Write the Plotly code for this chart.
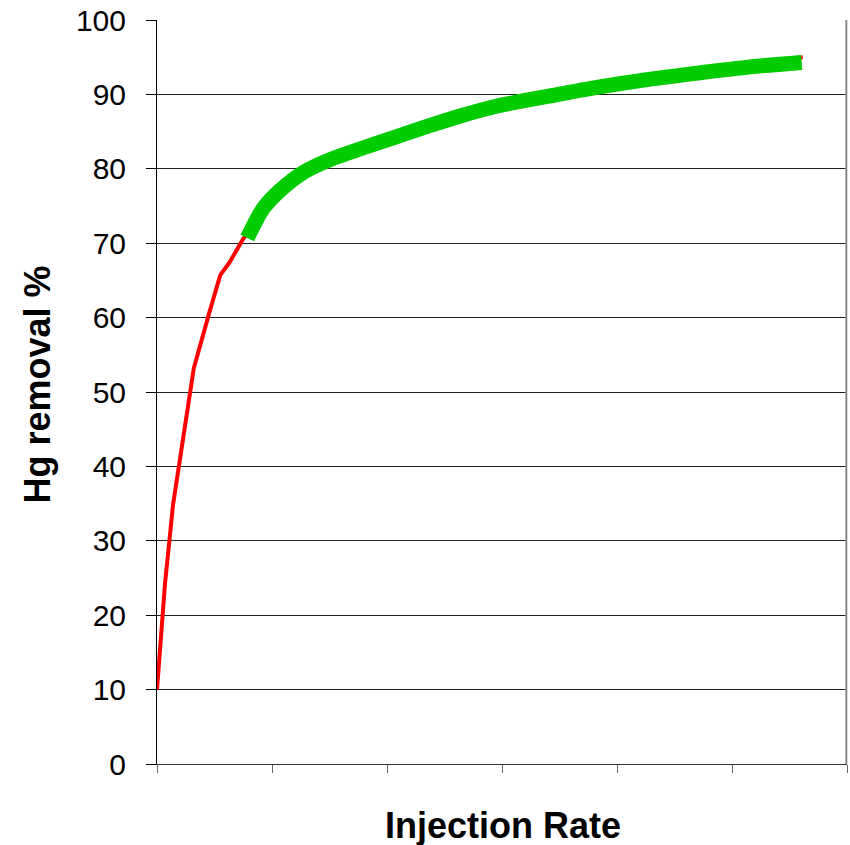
import plotly.graph_objects as go

# Data (x in tick-interval units, unlabeled axis)
red_x = [0.0, 0.07, 0.14, 0.23, 0.32, 0.45, 0.55, 0.63, 0.75, 0.79, 1.07, 1.5, 2.08, 2.95, 3.85, 4.72, 5.615]
red_y = [10.0, 24.3, 34.9, 44.0, 53.2, 60.4, 65.7, 67.4, 70.6, 71.3, 77.5, 81.5, 84.5, 88.8, 91.2, 93.3, 95.0]

green_x = [0.785, 0.925, 1.07, 1.27, 1.50, 1.79, 2.08, 2.37, 2.66, 2.95, 3.24, 3.42, 3.85, 4.29, 4.72, 5.16, 5.606]
green_y = [70.7, 74.7, 77.1, 79.5, 81.2, 82.8, 84.3, 85.8, 87.2, 88.4, 89.3, 89.8, 91.0, 92.05, 92.9, 93.7, 94.3]

x_ticks = [0, 1, 2, 3, 4, 5, 6]
y_ticks = [0, 10, 20, 30, 40, 50, 60, 70, 80, 90, 100]

FONT = "Liberation Sans, Arial, sans-serif"

fig = go.Figure()
fig.add_trace(go.Scatter(x=red_x, y=red_y, mode="lines",
                         line=dict(color="#ff0000", width=4), showlegend=False))
fig.add_trace(go.Scatter(x=green_x, y=green_y, mode="lines",
                         line=dict(color="#00cc00", width=15, shape="spline", smoothing=0.8),
                         showlegend=False))

fig.update_layout(
    width=850, height=845,
    margin=dict(l=157, r=3, t=18, b=81),
    paper_bgcolor="white", plot_bgcolor="white",
    font=dict(family=FONT, color="black"),
    xaxis=dict(range=[0, 6], tickvals=x_ticks, showticklabels=False,
               ticks="outside", ticklen=8, tickcolor="#666666", tickwidth=1,
               showgrid=False, zeroline=False,
               showline=True, linecolor="#333333", linewidth=1),
    yaxis=dict(range=[0, 100], tickvals=y_ticks,
               ticks="outside", ticklen=10, tickcolor="black", tickwidth=1,
               ticklabelstandoff=14,
               tickfont=dict(size=30, family=FONT, color="black"),
               showgrid=True, gridcolor="#222222", gridwidth=1,
               zeroline=False,
               showline=True, linecolor="black", linewidth=1),
    shapes=[dict(type="line", xref="paper", yref="paper", x0=0.999, x1=0.999, y0=0, y1=1,
                 line=dict(color="#888888", width=2))],
    annotations=[
        dict(text="<b>Hg removal %</b>", xref="paper", yref="paper",
             x=-0.1725, y=0.51, textangle=-90, showarrow=False,
             font=dict(size=36, family=FONT, color="black"),
             xanchor="center", yanchor="middle"),
        dict(text="<b>Injection Rate</b>", xref="paper", yref="paper",
             x=0.501, y=-0.083, showarrow=False,
             font=dict(size=36, family=FONT, color="black"),
             xanchor="center", yanchor="middle"),
    ],
)

fig.write_html("out.html", config={"displayModeBar": False},
               post_script="document.body.style.margin='0';document.body.style.overflow='hidden';")
